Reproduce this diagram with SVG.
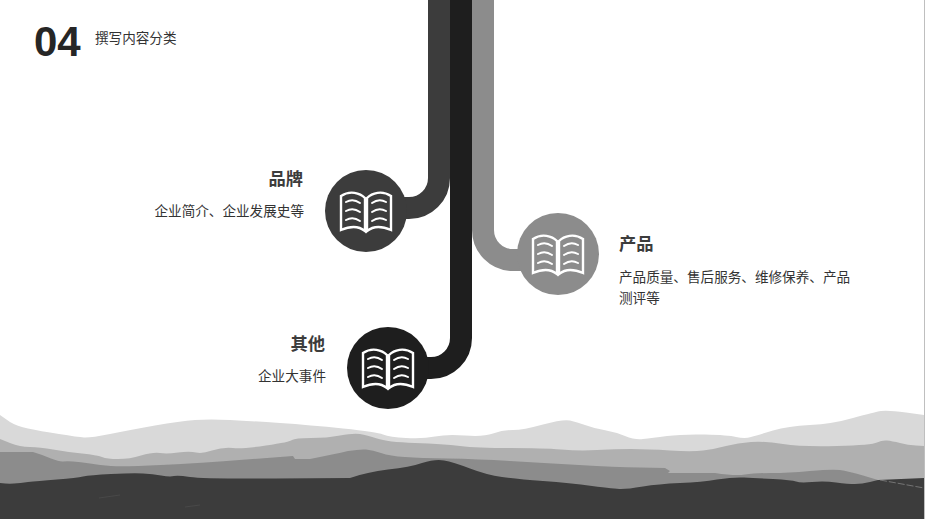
<svg xmlns="http://www.w3.org/2000/svg" width="925" height="519" viewBox="0 0 925 519">
<style>
text{font-family:"Noto Sans CJK SC","Noto Sans",sans-serif;fill:#333}
.h{font-size:17.3px;font-weight:700;fill:#3c3c3c}
.b{font-size:13.6px;fill:#333}
.e{text-anchor:end}
.pipe{fill:none;stroke-width:22}
.ic{fill:none;stroke:#fff;stroke-width:2.4;stroke-linejoin:miter}
.ic2{fill:none;stroke:#fff;stroke-width:2;stroke-linecap:round}
</style>
<defs>
<g id="book">
<path class="ic" d="M-1,-13 C-6,-18 -16,-21 -25,-15 V19 C-16,15 -7,15 -1,20 Z"/>
<path class="ic" d="M1,-13 C6,-18 16,-21 25,-15 V19 C16,15 7,15 1,20 Z"/>
<path class="ic2" d="M-20,-9 Q-13,-13 -6,-8 M-20,0 Q-13,-4 -6,1 M-20,9 Q-13,5 -6,10 M6,-8 Q13,-13 20,-9 M6,1 Q13,-4 20,0 M6,10 Q13,5 20,9"/>
</g>
</defs>
<rect width="925" height="519" fill="#fff"/>
<g id="mountains">
<path fill="#d9d9d9" d="M0,415 L10,422 Q17,426 28,428.5 Q40,431 59,434 Q78,437 84,437.5 Q90,438 110,434 Q130,430 155,425.5 Q180,421 195,420 Q210,419 230,420 Q250,421 280,423 Q310,425 343,428.5 Q377,432 383,434.5 Q390,437 406,438 Q423,439 435,436.5 Q447,434 465,435.5 Q483,437 493,433.5 Q503,430 513,430 Q523,430 543,424.5 Q563,419 570,420.5 Q577,422 585,425 Q593,428 604,430 Q615,432 625,436 Q635,440 643,439 Q652,438 667,436 Q682,434 705,434.5 Q728,435 736,437 Q745,439 751,437 Q758,435 773,430.5 Q788,426 810,425 Q832,424 853,418 Q875,412 881,411 Q888,410 906,412.5 L924,415 V519 H0 Z"/>
<path fill="#b0b0b0" d="M0,439 L10,443 Q20,447 30,447 Q40,447 53,449.5 Q67,452 82,453.5 Q97,455 102,457 Q107,459 118,459 Q130,459 141,455.5 Q153,452 160,453 Q167,454 178,452.5 Q190,451 196,452.5 Q202,454 212,450.5 Q223,447 233,448 Q243,449 266,445.5 Q290,442 292,440 Q295,438 311,438 Q327,438 340,435.5 Q353,433 360,434 Q367,435 377,438.5 Q387,442 415,443 Q443,444 460,446 Q477,448 510,448 Q543,448 561,449.5 Q580,451 597,450 Q615,449 631,449 Q648,449 670,450.5 Q692,452 703,450.5 Q715,449 726,446 Q738,443 751,442 Q765,441 783,444 Q802,447 837,446 Q872,445 877,442.5 Q882,440 887,440.5 Q892,441 900,443 Q908,445 916,445.5 L924,446 V519 H0 Z"/>
<path fill="#8c8c8c" d="M0,452 L33,452 Q43,455 51,458.5 Q60,462 63,461.5 Q67,461 73,461.5 Q80,462 90,463.5 Q100,465 111,466 Q123,467 161,465 Q200,463 246,459.5 L293,456 L295,459 L310,459 Q335,454 348,451 Q360,449 366,449.5 Q373,450 381,453 Q390,456 405,457 Q420,458 448,458.5 Q477,459 510,461 Q543,463 579,465 Q615,467 640,467.5 L665,468 L670,471 L668,473 L715,473 Q735,476 745,474.5 Q755,473 771,473 Q788,473 810,471 Q832,469 840,470 Q848,471 863,475.5 L878,480 V519 H0 Z"/>
<path fill="#3c3c3c" d="M0,483 Q8,484 14,483.5 Q20,483 28,482 Q37,481 57,479.5 Q77,478 83,476.5 Q90,475 111,474 Q133,473 143,473.5 Q153,474 161,475.5 Q170,477 174,476 Q178,475 190,477 Q203,479 276,478.5 L350,478 Q367,472 388,469.5 Q410,467 422,463 Q435,459 444,460.5 Q453,462 470,468.5 Q487,475 502,477 Q517,479 543,481 Q570,483 592,486 Q615,489 621,489 Q628,489 643,486.5 Q658,484 680,483 Q702,482 717,479.5 Q733,477 744,477.5 Q755,478 773,479 Q792,480 796,481.5 Q800,483 812,482 Q825,481 836,482.5 Q848,484 855,484 Q862,484 870,482 L878,480 L924,478 V519 H0 Z"/>
<path fill="none" stroke="#9a9a9a" stroke-width="0.6" stroke-dasharray="7 2" d="M880,480 L924,488"/>
<path fill="none" stroke="#505050" stroke-width="0.6" d="M99,498 L120,495 M185,507 L200,505"/>
</g>
<rect id="edge" x="924" y="0" width="1" height="519" fill="#bfbfbf"/>
<g id="connectors">
<path class="pipe" stroke="#3c3c3c" d="M439,0 V178 A30,30 0 0 1 409,208 H390"/>
<path class="pipe" stroke="#8c8c8c" d="M483,0 V230 A30,30 0 0 0 513,260 H540"/>
<path class="pipe" stroke="#1e1e1e" d="M461,0 V338 A30,30 0 0 1 431,368 H405"/>
</g>
<g id="title">
<text x="34" y="56" style="font-family:'Liberation Sans',sans-serif;font-size:42px;font-weight:700;fill:#262626">04</text>
<text x="95" y="43" class="b">撰写内容分类</text>
</g>
<g id="node-brand">
<circle cx="366" cy="211" r="41" fill="#3c3c3c"/>
<use href="#book" x="366" y="211"/>
<text x="303" y="185" class="h e">品牌</text>
<text x="304" y="216" class="b e">企业简介、企业发展史等</text>
</g>
<g id="node-product">
<circle cx="558" cy="254" r="41" fill="#8c8c8c"/>
<use href="#book" x="558" y="254"/>
<text x="619" y="250" class="h">产品</text>
<text x="619" y="282" class="b">产品质量、售后服务、维修保养、产品</text>
<text x="619" y="303" class="b">测评等</text>
</g>
<g id="node-other">
<circle cx="388" cy="368" r="41" fill="#1e1e1e"/>
<use href="#book" x="388" y="368"/>
<text x="325" y="350" class="h e">其他</text>
<text x="326" y="381" class="b e">企业大事件</text>
</g>
</svg>
